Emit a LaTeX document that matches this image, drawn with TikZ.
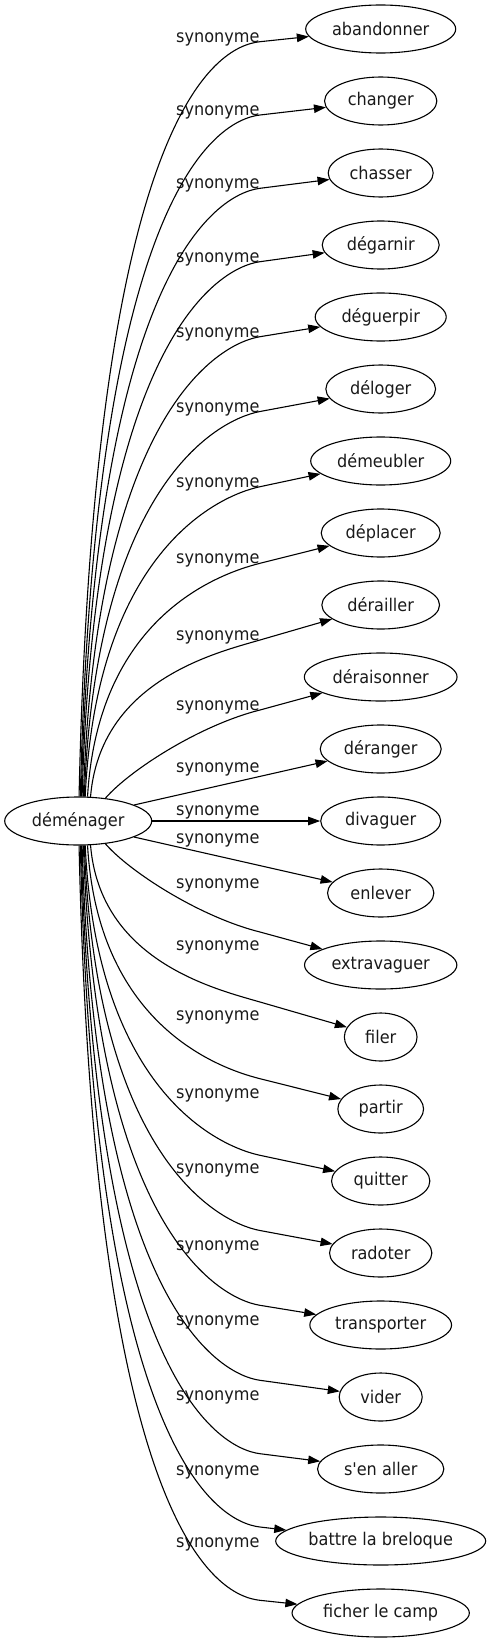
\documentclass[tikz,border=0pt]{standalone}
\usepackage{fontspec}
\newfontfamily\dv{DejaVu Sans}[FakeStretch=0.92]
\usetikzlibrary{shapes.geometric,arrows.meta}
\begin{document}
\begin{tikzpicture}[x=1pt,y=-1pt,
  nd/.style={draw=black, line width=1.1pt, ellipse, minimum height=48pt, inner sep=0pt,
             font=\dv\fontsize{17.5}{20}\selectfont, text=black!90},
  lab/.style={anchor=base, inner sep=0pt, font=\dv\fontsize{17.5}{20}\selectfont, text=black!90},
  edge/.style={draw=black, line width=1.1pt, -{Triangle[length=12pt,width=8.5pt]}}]
\useasboundingbox (0,0) rectangle (491,1643);
% centre node
\node[nd, minimum width=147pt] (c) at (78.2,821) {déménager};
% target nodes
\foreach \i/\w/\t in {0/150/abandonner, 1/112.3/changer, 2/105/chasser, 3/117/dégarnir,
  4/131/déguerpir, 5/109.7/déloger, 6/140/démeubler, 7/119/déplacer, 8/117.7/dérailler,
  9/152.7/déraisonner, 10/121/déranger, 11/120/divaguer, 12/106.3/enlever,
  13/152.3/extravaguer, 14/72.7/filer, 15/85.7/partir, 16/98.3/quitter, 17/102.3/radoter,
  18/141.7/transporter, 19/83/vider, 20/126.3/s'en aller, 21/210/battre la breloque,
  22/177.3/ficher le camp}
  \node[nd, minimum width=\w pt] (n\i) at (380.7,{29+72*\i}) {\t};
% labels
\foreach \i/\y in {0/36.7,1/110,2/183.3,3/256.7,4/331.7,5/406.5,6/481.7,7/558.3,8/635,
  9/705,10/766.7,11/810,12/838.3,13/883.3,14/945,15/1015,16/1093.3,17/1168.3,18/1245.3,
  19/1319.7,20/1394.7,21/1469.7,22/1542.3}
  \node[lab] (l\i) at (217.8,\y+5.5) {synonyme};
% curved edges (upper half and their mirror images in the lower half)
\foreach \i/\tx in {0/79,1/80,2/81,3/82,4/83,5/84,6/85,7/87,8/90}{
  \pgfmathsetmacro\L{{36.7,110,183.3,256.7,331.7,406.5,481.7,558.3,635}[\i]}
  \pgfmathsetmacro\py{\L+5}
  \pgfmathsetmacro\Y{29+72*\i}
  \pgfmathsetmacro\ang{atan2(24,\tx-78.2)}
  \pgfmathsetmacro\nang{-\ang}
  \pgfmathsetmacro\cx{\tx+15-0.6*\i}
  \pgfmathsetmacro\cy{\py+(0.1+0.02*\i)*(797-\py)}
  \pgfmathsetmacro\dx{215}
  \pgfmathsetmacro\dy{\py+(\py-\Y)*45/120.7}
  \pgfmathsetmacro\mcy{1642-\cy}
  \pgfmathsetmacro\mdy{1642-\dy}
  \pgfmathsetmacro\mpy{1642-\py}
  \pgfmathtruncatemacro\j{22-\i}
  \draw[edge] (c.\ang) .. controls (\cx,\cy) and (\dx,\dy) .. (260,\py) -- (n\i);
  \draw[edge] (c.\nang) .. controls (\cx,\mcy) and (\dx,\mdy) .. (260,\mpy) -- (n\j);
}
% nearer edges
\draw[edge] (c.40) .. controls (130,770) and (200,725) .. (260,710) -- (n9);
\draw[edge] (c.-40) .. controls (130,872) and (200,917) .. (260,932) -- (n13);
\draw[edge] (c.16) -- (n10);
\draw[edge] (c.-16) -- (n12);
\draw[edge] (c) -- (n11);
\end{tikzpicture}
\end{document}
